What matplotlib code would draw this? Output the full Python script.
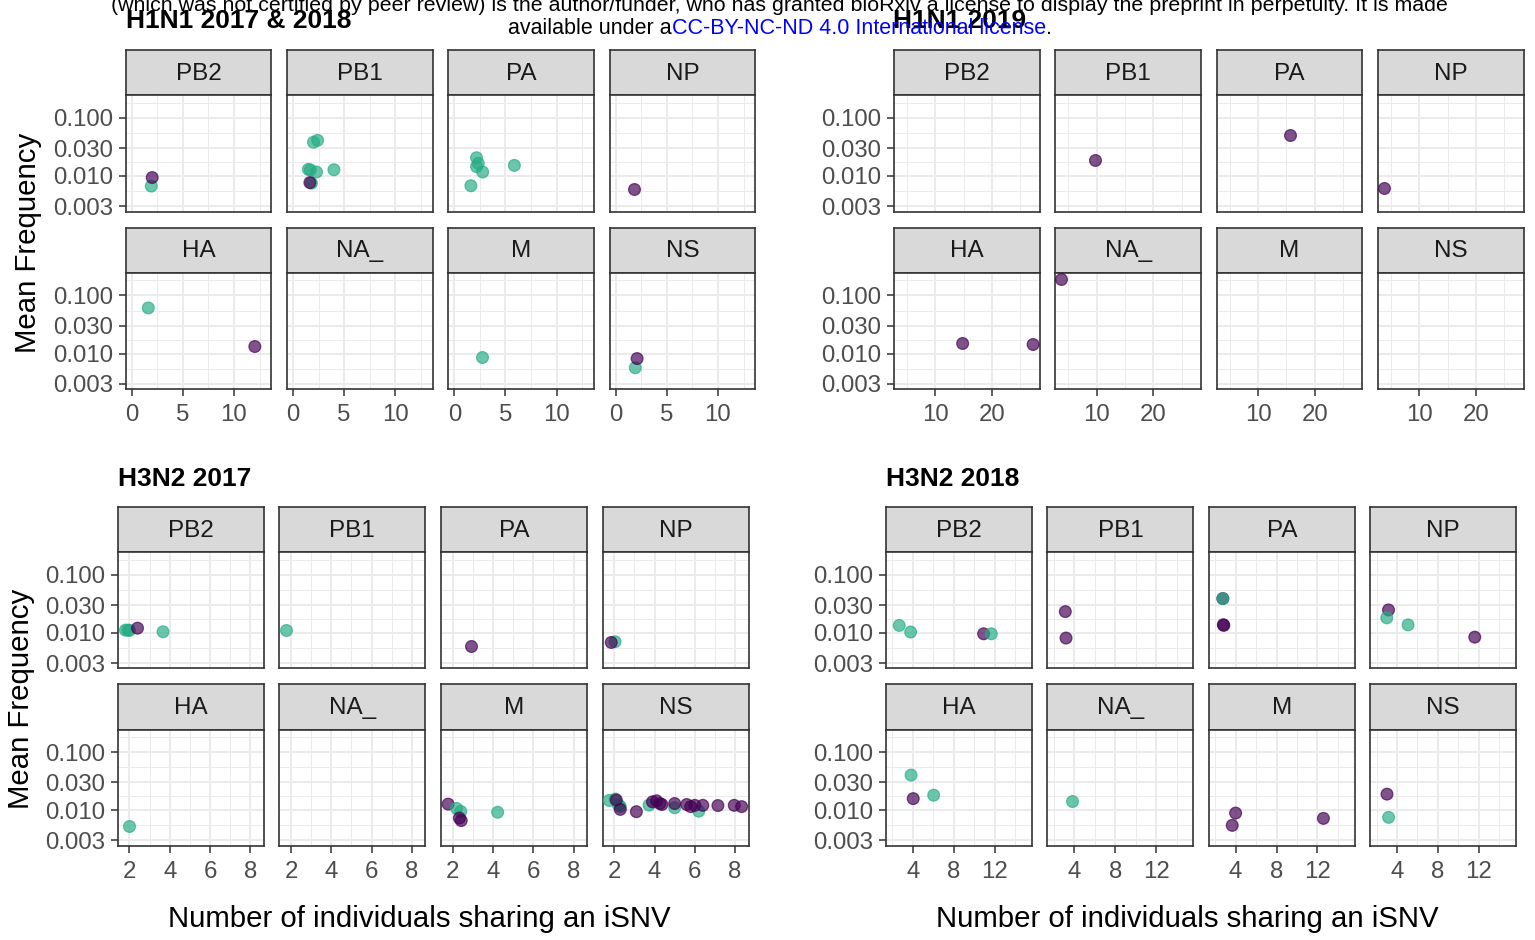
import matplotlib
matplotlib.use("Agg")
import matplotlib.pyplot as plt

W, H = 1535, 940
plt.rcParams['font.family'] = ['Liberation Sans', 'DejaVu Sans']

genes_row1 = ["PB2", "PB1", "PA", "NP"]
genes_row2 = ["HA", "NA_", "M", "NS"]
y_breaks = [0.003, 0.01, 0.03, 0.1]
y_break_labels = ["0.003", "0.010", "0.030", "0.100"]
colors = {"T": "#26AC84", "P": "#440154"}

# ---- H1N1 2017 & 2018 ----
h1_1718_gene = ["PB2", "PB2",
                "PB1", "PB1", "PB1", "PB1", "PB1", "PB1", "PB1", "PB1",
                "PA", "PA", "PA", "PA", "PA", "PA",
                "NP", "HA", "HA", "M", "NS", "NS"]
h1_1718_x = [1.91, 2.0,
             2.0, 2.4, 1.5, 1.7, 2.3, 4.0, 1.8, 1.65,
             2.17, 2.34, 2.17, 2.77, 5.87, 1.62,
             1.79, 1.62, 12.04, 2.68, 1.91, 2.09]
h1_1718_y = [0.0067, 0.0094,
             0.038, 0.041, 0.013, 0.0127, 0.0117, 0.0128, 0.0075, 0.0077,
             0.0206, 0.0165, 0.0145, 0.0117, 0.0152, 0.0068,
             0.0060, 0.0607, 0.0132, 0.0087, 0.0057, 0.0082]
h1_1718_grp = ["T", "P",
               "T", "T", "T", "T", "T", "T", "T", "P",
               "T", "T", "T", "T", "T", "T",
               "P", "T", "P", "T", "T", "P"]

# ---- H1N1 2019 ----
h1_19_gene = ["PB1", "PA", "NP", "HA", "HA", "NA_"]
h1_19_x = [9.6, 15.7, 3.76, 14.8, 27.25, 3.75]
h1_19_y = [0.0191, 0.0499, 0.0061, 0.0149, 0.0143, 0.193]
h1_19_grp = ["P", "P", "P", "P", "P", "P"]

# ---- H3N2 2017 ----
h3_17_gene = ["PB2", "PB2", "PB2", "PB2", "PB2",
              "PB1", "PA", "NP", "NP", "HA",
              "M", "M", "M", "M", "M", "M",
              "NS", "NS", "NS", "NS", "NS", "NS", "NS", "NS",
              "NS", "NS", "NS", "NS", "NS", "NS", "NS", "NS", "NS", "NS", "NS", "NS", "NS", "NS", "NS"]
h3_17_x = [1.8, 1.92, 2.0, 2.4, 3.67,
           1.73, 2.92, 2.04, 1.85, 1.98,
           1.77, 2.19, 2.4, 2.33, 2.42, 4.23,
           1.75, 2.04, 2.2, 2.3, 2.25, 3.73, 5.0, 6.2,
           2.1, 2.3, 3.1, 3.9, 4.1, 4.27, 4.37, 5.0, 5.6, 5.8, 6.0, 6.4, 7.15, 7.96, 8.33]
h3_17_y = [0.0111, 0.0111, 0.0110, 0.0120, 0.0104,
           0.0111, 0.0060, 0.0070, 0.0068, 0.00525,
           0.0127, 0.0107, 0.0095, 0.0073, 0.0066, 0.0092,
           0.0147, 0.0155, 0.0123, 0.0115, 0.0120, 0.0122, 0.0110, 0.0096,
           0.0150, 0.0103, 0.0094, 0.0139, 0.0145, 0.0130, 0.0125, 0.0130, 0.0125, 0.0115, 0.0121, 0.0121, 0.0120, 0.0121, 0.0115]
h3_17_grp = ["T", "T", "T", "P", "T",
             "T", "P", "T", "P", "T",
             "P", "T", "T", "P", "P", "T",
             "T", "T", "T", "T", "T", "T", "T", "T",
             "P", "P", "P", "P", "P", "P", "P", "P", "P", "P", "P", "P", "P", "P", "P"]

# ---- H3N2 2018 ----
h3_18_gene = ["PB2", "PB2", "PB2", "PB2",
              "PB1", "PB1",
              "PA", "PA", "PA", "PA",
              "NP", "NP", "NP", "NP",
              "HA", "HA", "HA",
              "NA_",
              "M", "M", "M",
              "NS", "NS"]
h3_18_x = [2.67, 3.79, 10.92, 11.67,
           3.13, 3.2,
           2.75, 2.75, 2.8, 2.85,
           3.17, 3.0, 5.08, 11.6,
           3.83, 4.04, 6.04,
           3.83,
           4.0, 3.67, 12.58,
           3.02, 3.18]
h3_18_y = [0.0134, 0.0103, 0.0096, 0.0096,
           0.0232, 0.0081,
           0.039, 0.039, 0.0138, 0.0134,
           0.0248, 0.0181, 0.0137, 0.0084,
           0.0403, 0.0158, 0.0181,
           0.0145,
           0.0089, 0.00546, 0.0072,
           0.0189, 0.0075]
h3_18_grp = ["T", "T", "P", "T",
             "P", "P",
             "P", "T", "P", "P",
             "P", "T", "T", "P",
             "T", "P", "T",
             "T",
             "P", "P", "P",
             "P", "T"]

fig = plt.figure(figsize=(W / 100, H / 100), dpi=100)


def rect(x0, y0, x1, y1):
    return [x0 / W, 1 - y1 / H, (x1 - x0) / W, (y1 - y0) / H]


GRID = "#EBEBEB"
DARK = "#333333"
TICKC = "#4D4D4D"
YLIM = (10 ** -2.614, 10 ** -0.608)
Y_MINOR = [10 ** -2.2615, 10 ** -1.761, 10 ** -1.261, 10 ** -0.7385]


def draw_block(col_lefts, col_w, strip_tops, strip_h, panel_bottoms,
               xlim, xticks, xminor, gene, xs, ys, grp):
    for r, row_genes in enumerate([genes_row1, genes_row2]):
        for c, g in enumerate(row_genes):
            x0 = col_lefts[c]
            x1 = x0 + col_w
            st = strip_tops[r]
            sb = st + strip_h
            pb = panel_bottoms[r]
            sax = fig.add_axes(rect(x0, st, x1, sb))
            sax.set_facecolor("#D9D9D9")
            sax.set_xticks([])
            sax.set_yticks([])
            for sp in sax.spines.values():
                sp.set_color(DARK)
                sp.set_linewidth(1.2)
            sax.text(0.5, 0.47, g, ha="center", va="center", fontsize=17.5,
                     color="#1A1A1A", transform=sax.transAxes)
            ax = fig.add_axes(rect(x0, sb, x1, pb))
            ax.set_yscale("log")
            ax.set_xlim(*xlim)
            ax.set_ylim(*YLIM)
            ax.set_xticks(xticks)
            ax.set_xticks(xminor, minor=True)
            ax.set_yticks(y_breaks)
            ax.set_yticks(Y_MINOR, minor=True)
            ax.set_yticklabels(y_break_labels)
            ax.grid(which="major", color=GRID, lw=1.4)
            ax.grid(which="minor", color=GRID, lw=0.7)
            ax.set_axisbelow(True)
            ax.tick_params(which="minor", length=0)
            ax.tick_params(which="major", length=5, width=1.1, color=DARK,
                           labelsize=17.3, labelcolor=TICKC, pad=4.2)
            ax.tick_params(axis="x", pad=5.8)
            if c != 0:
                ax.tick_params(axis="y", length=0, labelleft=False)
            if r == 0:
                ax.tick_params(axis="x", length=0, labelbottom=False)
            for sp in ax.spines.values():
                sp.set_color(DARK)
                sp.set_linewidth(1.2)
            px = [x for x, gg in zip(xs, gene) if gg == g]
            py = [y for y, gg in zip(ys, gene) if gg == g]
            pc = [colors[k] for k, gg in zip(grp, gene) if gg == g]
            if px:
                ax.scatter(px, py, s=72, c=pc, alpha=0.68, edgecolors=pc,
                           linewidths=0.9, zorder=3, clip_on=False)


top_rows = dict(strip_tops=[50, 227.5], strip_h=45, panel_bottoms=[211.7, 389.3])
bot_rows = dict(strip_tops=[506.7, 684], strip_h=45.5, panel_bottoms=[668.3, 845.7])

draw_block([125.7, 287.0, 448.3, 609.7], 145.6, xlim=(-0.59, 13.65),
           xticks=[0, 5, 10], xminor=[2.5, 7.5, 12.5],
           gene=h1_1718_gene, xs=h1_1718_x, ys=h1_1718_y, grp=h1_1718_grp, **top_rows)
draw_block([894.0, 1055.3, 1216.7, 1378.0], 145.6, xlim=(2.67, 28.4),
           xticks=[10, 20], xminor=[5, 15, 25],
           gene=h1_19_gene, xs=h1_19_x, ys=h1_19_y, grp=h1_19_grp, **top_rows)
draw_block([117.7, 279.3, 441.0, 602.5], 146.0, xlim=(1.416, 8.67),
           xticks=[2, 4, 6, 8], xminor=[3, 5, 7],
           gene=h3_17_gene, xs=h3_17_x, ys=h3_17_y, grp=h3_17_grp, **bot_rows)
draw_block([886.0, 1047.4, 1208.8, 1370.2], 146.0, xlim=(1.38, 15.65),
           xticks=[4, 8, 12], xminor=[2, 6, 10, 14],
           gene=h3_18_gene, xs=h3_18_x, ys=h3_18_y, grp=h3_18_grp, **bot_rows)


def ftext(x, y, s, **kw):
    return fig.text(x / W, 1 - y / H, s, **kw)


# titles
ftext(126, 28.5, "H1N1 2017 & 2018", fontsize=19, fontweight="bold", va="baseline")
ftext(893, 28.5, "H1N1 2019", fontsize=19, fontweight="bold", va="baseline")
ftext(118, 486, "H3N2 2017", fontsize=19, fontweight="bold", va="baseline")
ftext(886, 486, "H3N2 2018", fontsize=19, fontweight="bold", va="baseline")

# axis titles
ftext(28, 243, "Mean Frequency", fontsize=21.2, rotation=90, ha="center", va="center")
ftext(21, 699, "Mean Frequency", fontsize=21.2, rotation=90, ha="center", va="center")
ftext(419, 919, "Number of individuals sharing an iSNV", fontsize=21.2, ha="center", va="center")
ftext(1187, 919, "Number of individuals sharing an iSNV", fontsize=21.2, ha="center", va="center")

# bioRxiv watermark
ftext(779, 11, "(which was not certified by peer review) is the author/funder, who has granted "
      "bioRxiv a license to display the preprint in perpetuity. It is made",
      fontsize=15.4, ha="center", va="baseline")
renderer = fig.canvas.get_renderer()
t1 = ftext(508, 33.5, "available under a", fontsize=15.5, ha="left", va="baseline")
bb = t1.get_window_extent(renderer)
t2 = fig.text(bb.x1 / W, 1 - 33.5 / H, "CC-BY-NC-ND 4.0 International license",
              fontsize=15.5, ha="left", va="baseline", color="#0000FF")
bb2 = t2.get_window_extent(renderer)
fig.text(bb2.x1 / W, 1 - 33.5 / H, ".", fontsize=15.5, ha="left", va="baseline")

fig.savefig("out.png", dpi=100)
